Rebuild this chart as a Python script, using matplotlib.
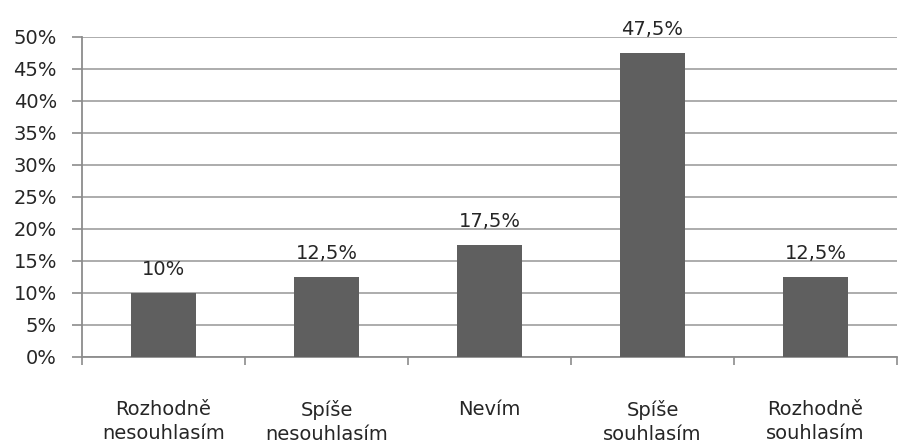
import numpy as np
import matplotlib.pyplot as plt
from matplotlib.ticker import FixedLocator, PercentFormatter

# survey answers and shares
categories = ['Rozhodně\nnesouhlasím', 'Spíše\nnesouhlasím', 'Nevím',
              'Spíše\nsouhlasím', 'Rozhodně\nsouhlasím']
shares = [10, 12.5, 17.5, 47.5, 12.5]
labels = ['10%', '12,5%', '17,5%', '47,5%', '12,5%']

plt.rcParams['font.family'] = ['DejaVu Sans']
fs = 14
txt_color = '#262626'
axis_color = '#8c8c8c'

fig = plt.figure(figsize=(9.04, 4.43), dpi=100)
ax = fig.add_axes([82 / 904, 1 - 357 / 443, 815 / 904, 320 / 443])

x = np.arange(len(categories))
ax.bar(x, shares, width=0.4, color='#5f5f5f', zorder=3)

for xi, v, txt in zip(x, shares, labels):
    ax.annotate(txt, (xi, v), xytext=(0, 10), textcoords='offset points',
                ha='center', va='bottom', fontsize=fs, color=txt_color)

ax.set_xlim(-0.5, len(categories) - 0.5)
ax.set_ylim(0, 50)
ax.set_yticks(np.arange(0, 51, 5))
ax.yaxis.set_major_formatter(PercentFormatter(decimals=0))
ax.grid(axis='y', color='#a6a6a6', linewidth=1.3, zorder=0)

# category names sit between the boundary ticks
ax.set_xticks(x)
ax.set_xticklabels(categories, fontsize=fs, color=txt_color, linespacing=1.3)
ax.tick_params(axis='x', length=0, pad=31)
ax.xaxis.set_minor_locator(FixedLocator(np.arange(-0.5, len(categories), 1)))
ax.tick_params(axis='x', which='minor', length=6, width=1.2, color=axis_color)
ax.tick_params(axis='y', length=7, width=1.2, color=axis_color, labelsize=fs,
               labelcolor=txt_color, pad=11)

for side in ['top', 'right']:
    ax.spines[side].set_visible(False)
for side in ['left', 'bottom']:
    ax.spines[side].set_color(axis_color)
    ax.spines[side].set_linewidth(1.3)

fig.savefig('out.png', dpi=100)
